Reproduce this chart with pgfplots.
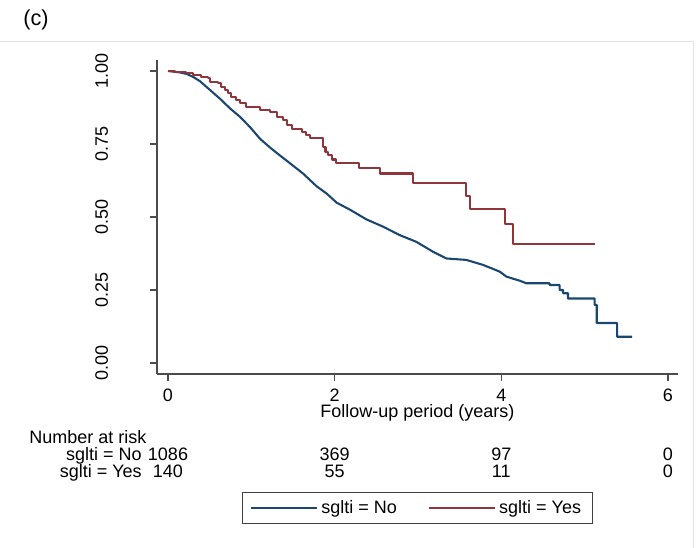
\documentclass[border=0pt]{standalone}
\usepackage{fontspec}
\setmainfont{Liberation Sans}
\usepackage{pgfplots}
\pgfplotsset{compat=1.18}
\definecolor{stnavy}{RGB}{26,71,111}
\definecolor{stmaroon}{RGB}{144,53,59}
\newcommand{\tfont}{\fontsize{10.8}{12.5}\selectfont}
\begin{document}
\begin{tikzpicture}
\path[use as bounding box] (0,0) rectangle (418.2pt,-328.8pt);
\draw[black!10, line width=0.6pt] (0,-25.2pt) -- (415.8pt,-25.2pt) -- (415.8pt,-328.8pt);
\node[font=\fontsize{13}{15}\selectfont] at (21.6pt,-12pt) {(c)};
\begin{axis}[
  at={(94.2pt,-224.4pt)}, anchor=south west,
  scale only axis, width=312.6pt, height=188.4pt,
  xmin=-0.132, xmax=6.12, ymin=-0.0377, ymax=1.0377,
  axis lines=left, axis line style={-, black!70, line width=0.8pt},
  tick style={black!70, line width=0.8pt},
  tick align=outside, major tick length=4.2pt,
  xtick={0,2,4,6}, ytick={0,0.25,0.5,0.75,1},
  yticklabels={0.00,0.25,0.50,0.75,1.00},
  xticklabels={0,2,4,6},
  /pgf/number format/assume math mode=true,
  ticklabel style={font=\tfont},
  yticklabel style={xshift=-25.2pt, rotate=90, anchor=base},
  xticklabel style={anchor=base, yshift=-12pt},
  xlabel={Follow-up period (years)},
  xlabel style={font=\tfont, at={(axis description cs:0.5,-0.1401)}, anchor=base},
  clip=false,
  legend columns=2,
  legend style={at={(axis description cs:0.5,-0.3758)}, anchor=north, draw=black!75, line width=0.6pt, font=\tfont, inner xsep=4.8pt, inner ysep=2.6pt, /tikz/every even column/.append style={column sep=17pt}},
  legend image code/.code={\draw[#1, line width=0.8pt] (0pt,0pt) -- (39.6pt,0pt);},
]
\addplot[stnavy, line width=1.25pt, sharp plot, line join=round] coordinates {
(0,1.0) (0.144,0.995) (0.224,0.99) (0.30,0.98) (0.384,0.965) (0.504,0.935)
(0.624,0.905) (0.744,0.872) (0.864,0.843) (0.984,0.808) (1.104,0.768)
(1.224,0.738) (1.32,0.716) (1.464,0.684) (1.62,0.649) (1.784,0.605)
(1.905,0.58) (2.024,0.549) (2.184,0.525) (2.38,0.492) (2.58,0.467)
(2.78,0.438) (2.98,0.415) (3.18,0.381) (3.34,0.358) (3.58,0.353)
(3.78,0.336) (3.98,0.313) (4.06,0.296) (4.16,0.287) (4.22,0.282) (4.30,0.273)
(4.58,0.273) (4.58,0.267) (4.70,0.267) (4.70,0.25) (4.74,0.25) (4.74,0.239)
(4.80,0.239) (4.80,0.221) (5.12,0.221) (5.12,0.199) (5.145,0.199) (5.145,0.137)
(5.39,0.137) (5.39,0.09) (5.57,0.09)
};
\addlegendentry{sglti = No}
\addplot[stmaroon, line width=1.25pt, const plot, line join=round] coordinates {
(0,1.0) (0.08,0.998) (0.22,0.992) (0.30,0.986) (0.40,0.98) (0.48,0.975)
(0.50,0.963) (0.60,0.958) (0.64,0.946) (0.68,0.935) (0.72,0.924) (0.76,0.912)
(0.82,0.90) (0.86,0.889) (0.94,0.878) (1.10,0.866) (1.22,0.861) (1.31,0.843)
(1.38,0.832) (1.43,0.815) (1.49,0.80) (1.61,0.79) (1.66,0.78) (1.70,0.77)
(1.86,0.741) (1.89,0.724) (1.92,0.712) (1.97,0.697) (2.02,0.685) (2.29,0.668)
(2.54,0.649) (2.94,0.617) (3.58,0.573) (3.62,0.527) (4.04,0.475) (4.14,0.406)
(5.12,0.406)
};
\addlegendentry{sglti = Yes}
\node[anchor=base west, inner sep=0pt, font=\tfont] at (axis cs:-1.668,-0.2774) {Number at risk};
\node[anchor=base east, inner sep=0pt, font=\tfont] at (axis cs:-0.312,-0.3356) {sglti = No};
\node[anchor=base, font=\tfont] at (axis cs:0,-0.3356) {1086};
\node[anchor=base, font=\tfont] at (axis cs:2,-0.3356) {369};
\node[anchor=base, font=\tfont] at (axis cs:4,-0.3356) {97};
\node[anchor=base, font=\tfont] at (axis cs:6,-0.3356) {0};
\node[anchor=base east, inner sep=0pt, font=\tfont] at (axis cs:-0.312,-0.3938) {sglti = Yes};
\node[anchor=base, font=\tfont] at (axis cs:0,-0.3938) {140};
\node[anchor=base, font=\tfont] at (axis cs:2,-0.3938) {55};
\node[anchor=base, font=\tfont] at (axis cs:4,-0.3938) {11};
\node[anchor=base, font=\tfont] at (axis cs:6,-0.3938) {0};
\end{axis}
\end{tikzpicture}
\end{document}
